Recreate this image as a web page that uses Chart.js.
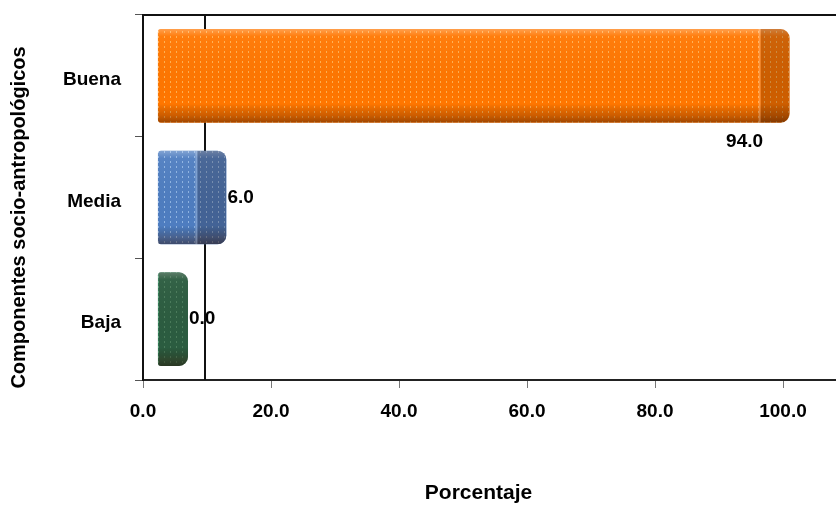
<!DOCTYPE html>
<html><head><meta charset="utf-8">
<script src="https://cdn.jsdelivr.net/npm/chart.js@4/dist/chart.umd.min.js"></script>
<style>html,body{margin:0;padding:0;background:#fff}#wrap{width:836px;height:508px}</style>
</head><body><div id="wrap"><canvas id="c" width="836" height="508"></canvas></div>
<script>
// ---- data ----
const categories = ['Buena', 'Media', 'Baja'];
const values = [94.0, 6.0, 0.0];
const xTickValues = [0, 20, 40, 60, 80, 100];
const xTitle = 'Porcentaje';
const yTitle = 'Componentes socio-antropológicos';
const labelPlacement = ['below', 'right', 'right'];

// ---- style ----
const FONT = "'Liberation Sans',Arial,sans-serif";
const X_MAX = 108.28;
const DEPTH = 7.03;      // 3D depth, in axis units
const BAR_BASE = -4.7;   // front-face start in depth-shifted units
const WALL = 9.7;        // back wall line position
const CAP = 29;          // px width of the 3D end face

const ctx0 = document.getElementById('c').getContext('2d');
function pat(base, dot) {
  const c = document.createElement('canvas'); c.width = 6; c.height = 5;
  const g = c.getContext('2d');
  g.fillStyle = base; g.fillRect(0, 0, 6, 5);
  g.fillStyle = dot; g.fillRect(2, 1, 1, 2);
  return ctx0.createPattern(c, 'repeat');
}
const fills = [pat('#FF7600', 'rgba(255,190,100,0.8)'), pat('#4E7DC0', 'rgba(150,185,230,0.9)'), pat('#2F7452', 'rgba(90,160,120,0.9)')];
const radius = {topLeft: 3, bottomLeft: 3, topRight: 9, bottomRight: 9};

const deco = {
  id: 'deco',
  beforeDatasetsDraw(chart) {
    const {ctx, chartArea: a, scales} = chart;
    ctx.save();
    ctx.strokeStyle = '#111'; ctx.lineWidth = 2;
    ctx.beginPath(); ctx.moveTo(a.left, a.top); ctx.lineTo(a.right, a.top); ctx.stroke();
    const wx = Math.round(scales.x.getPixelForValue(WALL));
    ctx.beginPath(); ctx.moveTo(wx, a.top); ctx.lineTo(wx, a.bottom); ctx.stroke();
    ctx.restore();
    // axis titles
    ctx.save();
    ctx.fillStyle = '#000';
    ctx.textAlign = 'center'; ctx.textBaseline = 'middle';
    ctx.font = 'bold 21px ' + FONT;
    ctx.fillText(xTitle, (a.left + a.right) / 2 - 11, 493);
    ctx.font = 'bold 20px ' + FONT;
    ctx.translate(19, (a.top + a.bottom) / 2 + 20);
    ctx.rotate(-Math.PI / 2);
    ctx.fillText(yTitle, 0, 0);
    ctx.restore();
  },
  afterDatasetsDraw(chart) {
    const {ctx, scales} = chart;
    const meta = chart.getDatasetMeta(0);
    meta.data.forEach((bar, i) => {
      const p = bar.getProps(['x', 'y', 'base', 'height'], true);
      const l = p.base, r = p.x, t = p.y - p.height / 2, b = p.y + p.height / 2;
      ctx.save();
      ctx.beginPath();
      ctx.roundRect(l, t, r - l, b - t, [radius.topLeft, radius.topRight, radius.bottomRight, radius.bottomLeft]);
      ctx.clip();
      const g = ctx.createLinearGradient(0, t, 0, b);
      g.addColorStop(0, 'rgba(255,255,255,0.30)');
      g.addColorStop(0.08, 'rgba(255,255,255,0.05)');
      g.addColorStop(0.8, 'rgba(0,0,0,0.0)');
      g.addColorStop(0.92, 'rgba(60,20,0,0.25)');
      g.addColorStop(1, 'rgba(40,10,0,0.45)');
      ctx.fillStyle = g; ctx.fillRect(l, t, r - l, b - t);
      const cs = Math.max(l, r - CAP);
      ctx.fillStyle = 'rgba(30,10,0,0.22)';
      ctx.fillRect(cs, t, r - cs, b - t);
      if (cs > l + 2) {
        ctx.fillStyle = 'rgba(255,255,255,0.25)';
        ctx.fillRect(cs - 2, t, 2, b - t);
      }
      ctx.restore();
      // value labels
      ctx.save();
      ctx.font = 'bold 19px ' + FONT;
      ctx.fillStyle = '#000';
      ctx.textBaseline = 'middle';
      const txt = values[i].toFixed(1);
      if (labelPlacement[i] === 'below') {
        ctx.textAlign = 'center';
        ctx.fillText(txt, scales.x.getPixelForValue(values[i]), b + 19);
      } else {
        ctx.textAlign = 'left';
        ctx.fillText(txt, r + 1, p.y);
      }
      ctx.restore();
    });
  }
};

new Chart(ctx0, {
  type: 'bar',
  data: {
    labels: categories,
    datasets: [{
      data: values,
      xAxisID: 'xb',
      yAxisID: 'y',
      base: BAR_BASE,
      backgroundColor: fills,
      borderWidth: 0,
      borderSkipped: false,
      borderRadius: radius,
      barPercentage: 0.77,
      categoryPercentage: 1.0
    }]
  },
  options: {
    indexAxis: 'y',
    responsive: false,
    animation: false,
    devicePixelRatio: 1,
    layout: {padding: {top: 15, right: 0, left: 0, bottom: 0}},
    plugins: {legend: {display: false}, tooltip: {enabled: false}},
    scales: {
      x: {
        type: 'linear', position: 'bottom', min: 0, max: X_MAX,
        afterBuildTicks: s => { s.ticks = xTickValues.map(v => ({value: v})); },
        afterFit: s => { s.height = 128; s.paddingLeft = 0; s.paddingRight = 0; },
        ticks: {callback: v => Number(v).toFixed(1), font: {family: FONT, size: 19, weight: 'bold'}, color: '#000', padding: 12, maxRotation: 0},
        grid: {drawOnChartArea: false, drawTicks: true, tickLength: 8, color: '#777'},
        border: {color: '#222', width: 2},
        title: {display: false, text: xTitle}
      },
      xb: {type: 'linear', display: false, min: -DEPTH, max: X_MAX - DEPTH},
      y: {
        type: 'category', position: 'left',
        afterFit: s => { s.width = 143; s.paddingTop = 0; s.paddingBottom = 0; },
        ticks: {font: {family: FONT, size: 19, weight: 'bold'}, color: '#000', padding: 14, labelOffset: 4},
        grid: {offset: true, drawOnChartArea: false, drawTicks: true, tickLength: 8, color: '#555'},
        border: {color: '#111', width: 2},
        title: {display: false, text: yTitle}
      }
    }
  },
  plugins: [deco]
});
</script></body></html>
